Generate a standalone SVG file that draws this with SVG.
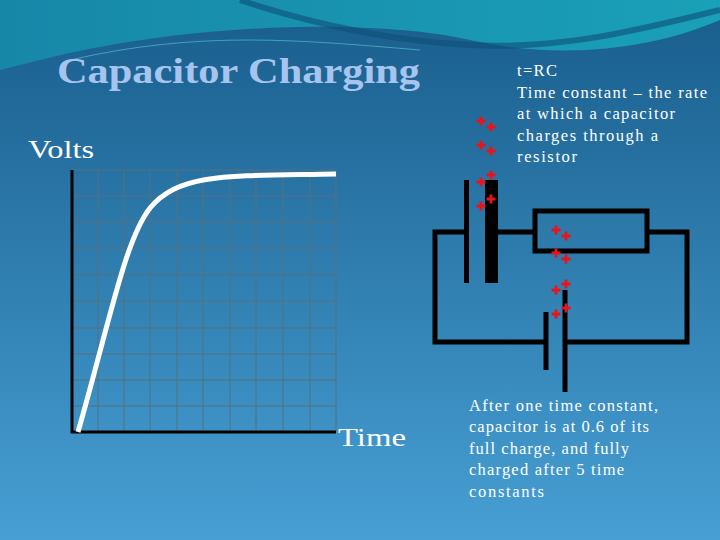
<svg xmlns="http://www.w3.org/2000/svg" width="720" height="540" viewBox="0 0 720 540">
<defs>
<linearGradient id="bg" x1="0" y1="0" x2="0" y2="1"><stop offset="0" stop-color="#185d8c"/><stop offset="1" stop-color="#479fd3"/></linearGradient>
<linearGradient id="sw" x1="0" y1="0" x2="1" y2="0"><stop offset="0" stop-color="#1787a8"/><stop offset="1" stop-color="#1aa0b8"/></linearGradient>
<g id="plus"><path d="M-4.5 0H4.5M0 -4.5V4.5" stroke="#e8141c" stroke-width="2.8"/></g>
</defs>
<style>
.w{fill:none;stroke:#000;stroke-width:5}
.g{stroke:#55707f;stroke-width:1}
.t{font-family:"Liberation Serif",serif;fill:#fff}
</style>
<rect width="720" height="540" fill="url(#bg)"/>
<path d="M0 0H720V20C650 50 560 60 470 40C380 20 200 20 40 60L0 70Z" fill="url(#sw)"/>
<path d="M240 0C300 20 380 40 470 45C560 50 640 30 720 10" fill="none" stroke="#0d4f78" stroke-width="6" opacity="0.6"/>
<path d="M70 60C200 30 300 40 420 50" fill="none" stroke="#5fc8d8" stroke-width="1" opacity="0.6"/>
<text x="57" y="83" font-family="Liberation Serif,serif" font-size="36" font-weight="bold" fill="#a7c4ee" textLength="363" lengthAdjust="spacingAndGlyphs">Capacitor Charging</text>
<text class="t" x="28" y="158" font-size="25" textLength="66" lengthAdjust="spacingAndGlyphs">Volts</text>
<g id="graph">
<g class="g">
<path d="M98 170V432M124 170V432M150 170V432M177 170V432M203 170V432M230 170V432M256 170V432M283 170V432M310 170V432M336 170V432"/>
<path d="M72 196H336M72 222H336M72 248H336M72 275H336M72 301H336M72 328H336M72 354H336M72 380H336M72 406H336M72 170H336"/>
</g>
<path d="M72 170V432H336" fill="none" stroke="#000" stroke-width="3"/>
<path d="M78 432C110 320 125 240 150 208C180 172 230 176 336 174" fill="none" stroke="#fff" stroke-width="5"/>
</g>
<text class="t" x="338" y="446" font-size="25" textLength="68" lengthAdjust="spacingAndGlyphs">Time</text>
<g class="t" font-size="16.5" lengthAdjust="spacingAndGlyphs">
<text x="517" y="76" textLength="40">t=RC</text>
<text x="517" y="98" textLength="190">Time constant – the rate</text>
<text x="517" y="119" textLength="158">at which a capacitor</text>
<text x="517" y="141" textLength="141">charges through a</text>
<text x="517" y="162" textLength="60">resistor</text>
</g>
<g id="circuit">
<path class="w" d="M466 232H435V342H546M498 232H535M647 232H687V342H565"/>
<rect class="w" x="535" y="211" width="112" height="40"/>
<path class="w" d="M466.5 180V283"/>
<rect x="485" y="180" width="13" height="103" fill="#000"/>
<path class="w" d="M546 312V370M565 290V392"/>
</g>
<g id="charges">
<use href="#plus" x="481" y="121"/><use href="#plus" x="491" y="127"/><use href="#plus" x="481" y="145"/><use href="#plus" x="491" y="151"/>
<use href="#plus" x="481" y="182"/><use href="#plus" x="491" y="175"/><use href="#plus" x="481" y="206"/><use href="#plus" x="491" y="199"/>
<use href="#plus" x="556" y="230"/><use href="#plus" x="566" y="236"/><use href="#plus" x="556" y="253"/><use href="#plus" x="566" y="259"/>
<use href="#plus" x="556" y="290"/><use href="#plus" x="566" y="284"/><use href="#plus" x="556" y="314"/><use href="#plus" x="566" y="308"/>
</g>
<g class="t" font-size="16.5" lengthAdjust="spacingAndGlyphs">
<text x="469" y="411" textLength="189">After one time constant,</text>
<text x="469" y="432" textLength="180">capacitor is at 0.6 of its</text>
<text x="469" y="454" textLength="160">full charge, and fully</text>
<text x="469" y="475" textLength="155">charged after 5 time</text>
<text x="469" y="497" textLength="75">constants</text>
</g>
</svg>
